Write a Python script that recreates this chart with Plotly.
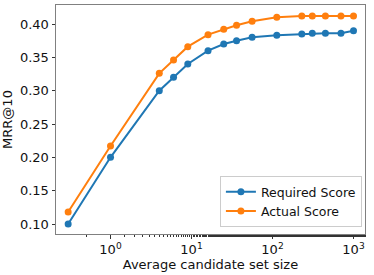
import plotly.graph_objects as go

set_size = [0.3, 1, 4, 6, 9, 16, 25, 36, 56, 113, 230, 310, 450, 700, 1000]
required_score = [0.100, 0.200, 0.300, 0.320, 0.340, 0.360, 0.370, 0.375, 0.380, 0.383, 0.385, 0.386, 0.386, 0.386, 0.390]
actual_score = [0.118, 0.217, 0.326, 0.346, 0.366, 0.384, 0.392, 0.398, 0.404, 0.410, 0.412, 0.412, 0.412, 0.412, 0.412]

x_tickvals = [1, 10, 100, 1000]
x_ticktext = ["10<sup>0</sup>", "10<sup>1</sup>", "10<sup>2</sup>", "10<sup>3</sup>"]
y_tickvals = [0.10, 0.15, 0.20, 0.25, 0.30, 0.35, 0.40]

FONT = "DejaVu Sans"
FS = 13

fig = go.Figure()
fig.add_trace(go.Scatter(x=set_size, y=required_score, mode="lines+markers",
                         name="Required Score",
                         line=dict(color="#1f77b4", width=2),
                         marker=dict(size=7, color="#1f77b4")))
fig.add_trace(go.Scatter(x=set_size, y=actual_score, mode="lines+markers",
                         name="Actual Score",
                         line=dict(color="#ff7f0e", width=2),
                         marker=dict(size=7, color="#ff7f0e")))

axis_common = dict(showgrid=False, zeroline=False, showline=True, linecolor="#808080",
                   linewidth=1, mirror=True, ticks="outside", ticklen=3.5, tickwidth=1,
                   tickcolor="#333333", automargin=False,
                   tickfont=dict(family=FONT, size=FS, color="#111111"))

fig.update_layout(
    width=374, height=275,
    margin=dict(l=56, r=9, t=5, b=41),
    plot_bgcolor="white", paper_bgcolor="white",
    font=dict(family=FONT, size=FS, color="#111111"),
    showlegend=True,
    legend=dict(x=0.99, y=0.03, xanchor="right", yanchor="bottom",
                bordercolor="#cccccc", borderwidth=1, bgcolor="rgba(255,255,255,0.8)",
                font=dict(family=FONT, size=12.5), tracegroupgap=0,
                itemwidth=30),
)
fig.update_xaxes(type="log", range=[-0.673, 3.142], tickvals=x_tickvals, ticktext=x_ticktext,
                 title=dict(text="Average candidate set size", standoff=2,
                            font=dict(family=FONT, size=FS)),
                 minor=dict(ticks="outside", ticklen=2, tickcolor="#333333", showgrid=False),
                 **axis_common)
fig.update_yaxes(range=[0.085, 0.4285], tickvals=y_tickvals, tickformat=".2f",
                 title=dict(text="MRR@10", standoff=6,
                            font=dict(family=FONT, size=FS)),
                 **axis_common)

fig.write_html("out.html", config={"displayModeBar": False},
               post_script="document.body.style.margin='0';")
